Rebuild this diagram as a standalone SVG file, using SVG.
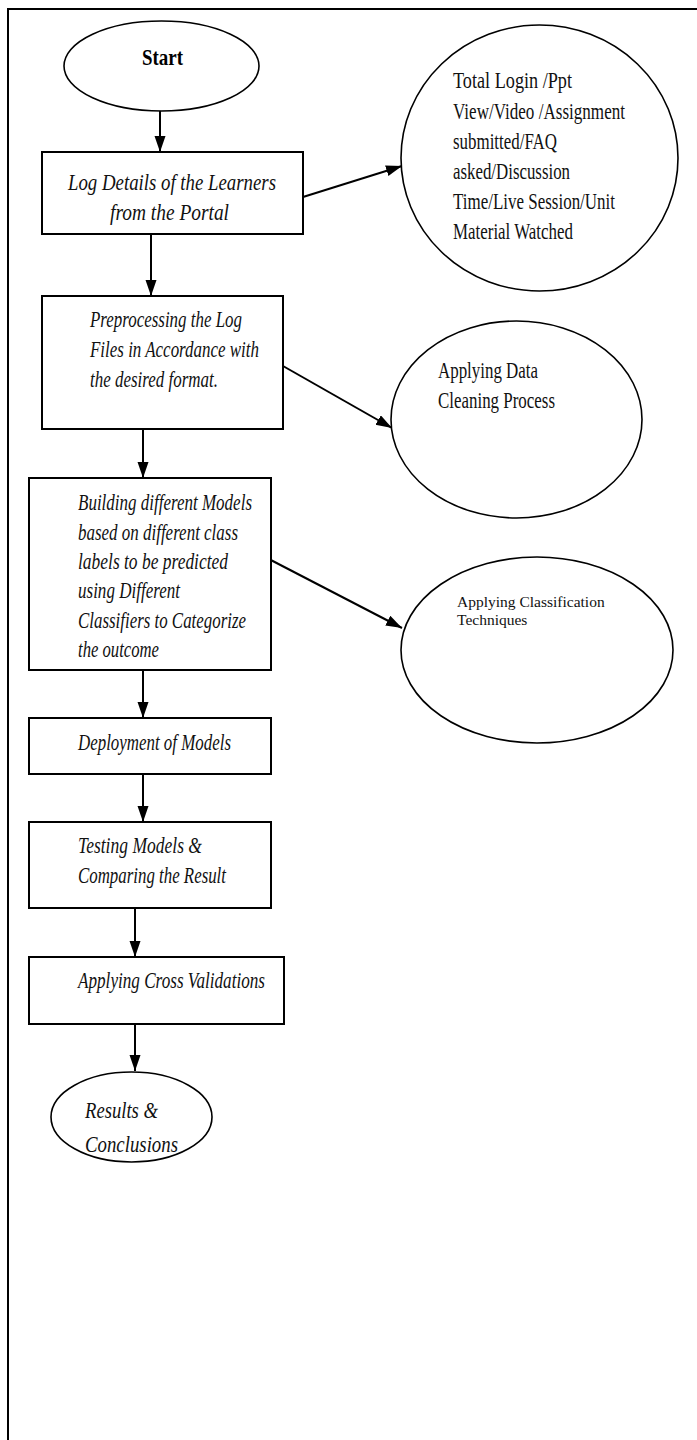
<svg xmlns="http://www.w3.org/2000/svg" width="697" height="1440" viewBox="0 0 697 1440">
<style>
.frame{fill:none;stroke:#000;stroke-width:2}
.box{fill:#fff;stroke:#000;stroke-width:2}
.ell{fill:#fff;stroke:#000;stroke-width:1.6}
.it{font-family:"Liberation Serif","Times New Roman",serif;font-style:italic;font-size:23px;fill:#111}
.rg{font-family:"Liberation Serif","Times New Roman",serif;font-size:23px;fill:#111}
.sm{font-family:"Liberation Serif","Times New Roman",serif;font-size:15.5px;fill:#111}
.bd{font-family:"Liberation Serif","Times New Roman",serif;font-weight:bold;font-size:23px;fill:#000}
.conn line{stroke:#000;stroke-width:2;marker-end:url(#arr)}
</style>
<defs>
<marker id="arr" markerUnits="userSpaceOnUse" markerWidth="16" markerHeight="12" refX="16" refY="5.5" orient="auto">
<path d="M0,0 L16,5.5 L0,11 z" fill="#000"/>
</marker>
</defs>
<rect width="697" height="1440" fill="#fff"/>
<path class="frame" d="M8,1440 V9 H697"/>

<g id="connectors" class="conn">
<line x1="160" y1="111" x2="160" y2="152"/>
<line x1="303" y1="197" x2="402" y2="166"/>
<line x1="151" y1="234" x2="151" y2="296"/>
<line x1="283" y1="366" x2="392" y2="428"/>
<line x1="143" y1="429" x2="143" y2="478"/>
<line x1="265" y1="557" x2="402" y2="628"/>
<line x1="143" y1="670" x2="143" y2="718"/>
<line x1="143" y1="774" x2="143" y2="822"/>
<line x1="135" y1="908" x2="135" y2="957"/>
<line x1="135" y1="1024" x2="135" y2="1071"/>
</g>

<g id="start">
<ellipse class="ell" cx="161.5" cy="66" rx="97.5" ry="45"/>
<text class="bd" x="142" y="65" textLength="41" lengthAdjust="spacingAndGlyphs">Start</text>
</g>

<g id="log-details">
<rect class="box" x="42" y="152" width="261" height="82"/>
<text class="it" x="68" y="190" textLength="208" lengthAdjust="spacingAndGlyphs">Log Details of the Learners</text>
<text class="it" x="110" y="220" textLength="119" lengthAdjust="spacingAndGlyphs">from the Portal</text>
</g>

<g id="log-items">
<ellipse class="ell" cx="539.5" cy="158" rx="138.5" ry="133"/>
<text class="rg" x="453" y="88" textLength="119" lengthAdjust="spacingAndGlyphs">Total  Login  /Ppt</text>
<text class="rg" x="453" y="119" textLength="172" lengthAdjust="spacingAndGlyphs">View/Video /Assignment</text>
<text class="rg" x="453" y="149" textLength="104" lengthAdjust="spacingAndGlyphs">submitted/FAQ</text>
<text class="rg" x="453" y="179" textLength="117" lengthAdjust="spacingAndGlyphs">asked/Discussion</text>
<text class="rg" x="453" y="209" textLength="162" lengthAdjust="spacingAndGlyphs">Time/Live Session/Unit</text>
<text class="rg" x="453" y="239" textLength="120" lengthAdjust="spacingAndGlyphs">Material Watched</text>
</g>

<g id="preprocessing">
<rect class="box" x="42" y="296" width="241" height="133"/>
<text class="it" x="90" y="327" textLength="152" lengthAdjust="spacingAndGlyphs">Preprocessing the Log</text>
<text class="it" x="90" y="357" textLength="169" lengthAdjust="spacingAndGlyphs">Files in Accordance with</text>
<text class="it" x="90" y="387" textLength="128" lengthAdjust="spacingAndGlyphs">the desired format.</text>
</g>

<g id="data-cleaning">
<ellipse class="ell" cx="516.5" cy="419.5" rx="125.5" ry="98.5"/>
<text class="rg" x="438" y="378" textLength="100" lengthAdjust="spacingAndGlyphs">Applying Data</text>
<text class="rg" x="438" y="408" textLength="117" lengthAdjust="spacingAndGlyphs">Cleaning Process</text>
</g>

<g id="building-models">
<rect class="box" x="29" y="478" width="242" height="192"/>
<text class="it" x="78" y="510" textLength="174" lengthAdjust="spacingAndGlyphs">Building different Models</text>
<text class="it" x="78" y="540" textLength="160" lengthAdjust="spacingAndGlyphs">based on different class</text>
<text class="it" x="78" y="569" textLength="150" lengthAdjust="spacingAndGlyphs">labels  to be predicted</text>
<text class="it" x="78" y="598" textLength="102" lengthAdjust="spacingAndGlyphs">using Different</text>
<text class="it" x="78" y="628" textLength="168" lengthAdjust="spacingAndGlyphs">Classifiers to Categorize</text>
<text class="it" x="78" y="657" textLength="81" lengthAdjust="spacingAndGlyphs">the outcome</text>
</g>

<g id="classification">
<ellipse class="ell" cx="537" cy="650" rx="136" ry="93"/>
<text class="sm" x="457" y="607">Applying Classification</text>
<text class="sm" x="457" y="625">Techniques</text>
</g>

<g id="deployment">
<rect class="box" x="29" y="718" width="242" height="56"/>
<text class="it" x="78" y="750" textLength="153" lengthAdjust="spacingAndGlyphs">Deployment of Models</text>
</g>

<g id="testing">
<rect class="box" x="29" y="822" width="242" height="86"/>
<text class="it" x="78" y="853" textLength="124" lengthAdjust="spacingAndGlyphs">Testing  Models &amp;</text>
<text class="it" x="78" y="883" textLength="148" lengthAdjust="spacingAndGlyphs">Comparing the Result</text>
</g>

<g id="cross-validation">
<rect class="box" x="29" y="957" width="255" height="67"/>
<text class="it" x="78" y="988" textLength="187" lengthAdjust="spacingAndGlyphs">Applying Cross Validations</text>
</g>

<g id="results">
<ellipse class="ell" cx="131.5" cy="1117" rx="80.5" ry="45"/>
<text class="it" x="85" y="1118" textLength="73" lengthAdjust="spacingAndGlyphs">Results &amp;</text>
<text class="it" x="85" y="1152" textLength="93" lengthAdjust="spacingAndGlyphs">Conclusions</text>
</g>
</svg>
